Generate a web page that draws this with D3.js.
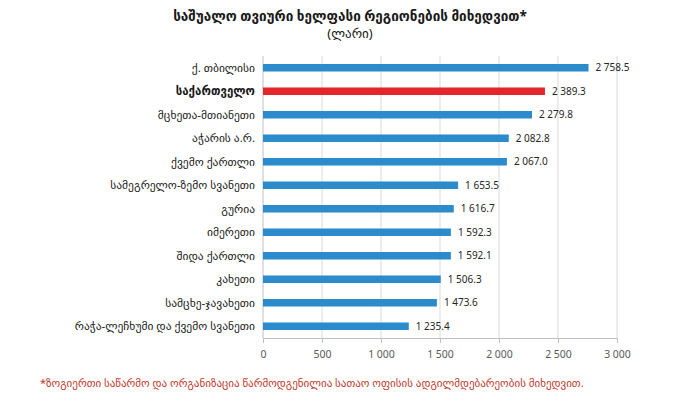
<!DOCTYPE html>
<html>
<head>
  <meta charset="utf-8">
  <style>
    body {
      margin: 0;
      background: white;
    }
    text {
      font-family: "Noto Sans", "DejaVu Sans", sans-serif;
    }
    .grid line {
      stroke: #d9d9d9;
    }
    .axis path, .axis line {
      stroke: #bfbfbf;
    }
  </style>
</head>
<body>
  <script src="https://d3js.org/d3.v7.min.js"></script>
  <script>
    var width = 700, height = 405;

    var title = "საშუალო თვიური ხელფასი რეგიონების მიხედვით*";
    var subtitle = "(ლარი)";
    var footnote = "*ზოგიერთი საწარმო და ორგანიზაცია წარმოდგენილია სათაო ოფისის ადგილმდებარეობის მიხედვით.";

    var regions = [
      "ქ. თბილისი",
      "საქართველო",
      "მცხეთა-მთიანეთი",
      "აჭარის ა.რ.",
      "ქვემო ქართლი",
      "სამეგრელო-ზემო სვანეთი",
      "გურია",
      "იმერეთი",
      "შიდა ქართლი",
      "კახეთი",
      "სამცხე-ჯავახეთი",
      "რაჭა-ლეჩხუმი და ქვემო სვანეთი"
    ];
    var salaries = [2758.5, 2389.3, 2279.8, 2082.8, 2067.0, 1653.5, 1616.7, 1592.3, 1592.1, 1506.3, 1473.6, 1235.4];
    var ticks = [0, 500, 1000, 1500, 2000, 2500, 3000];
    var highlight = "საქართველო";

    var data = regions.map((r, i) => ({ region: r, value: salaries[i] }));

    var locale = d3.formatLocale({ decimal: ".", thousands: " ", grouping: [3], currency: ["", ""] });
    var fmtVal = locale.format(",.1f");
    var fmtTick = locale.format(",d");

    var margin = { top: 56, left: 263, right: 83, bottom: 67 };
    var innerW = width - margin.left - margin.right;
    var innerH = height - margin.top - margin.bottom;

    var svg = d3.select("body").append("svg")
        .attr("width", width)
        .attr("height", height);

    svg.append("text")
        .attr("x", 350).attr("y", 21)
        .attr("text-anchor", "middle")
        .style("font-size", "13.5px")
        .style("font-weight", "bold")
        .style("fill", "#1a1a1a")
        .text(title);

    svg.append("text")
        .attr("x", 350).attr("y", 38)
        .attr("text-anchor", "middle")
        .style("font-size", "13px")
        .style("fill", "#1a1a1a")
        .text(subtitle);

    var g = svg.append("g")
        .attr("transform", "translate(" + margin.left + "," + margin.top + ")");

    var x = d3.scaleLinear().domain([0, 3000]).range([0, innerW]);
    var y = d3.scaleBand().domain(regions).range([0, innerH]).paddingInner(0.68).paddingOuter(0.34);

    // vertical gridlines
    g.append("g").attr("class", "grid")
      .selectAll("line")
      .data(ticks.slice(1))
      .enter().append("line")
        .attr("x1", d => x(d)).attr("x2", d => x(d))
        .attr("y1", 0).attr("y2", innerH);

    // left axis line
    g.append("line")
        .attr("x1", 0).attr("x2", 0)
        .attr("y1", 0).attr("y2", innerH)
        .style("stroke", "#bfbfbf");

    var xAxis = g.append("g").attr("class", "axis")
        .attr("transform", "translate(0," + innerH + ")")
        .call(d3.axisBottom(x).tickValues(ticks).tickFormat(fmtTick).tickSize(5).tickSizeOuter(0));
    xAxis.selectAll("text")
        .attr("dy", "1.1em")
        .style("font-size", "10.5px")
        .style("fill", "#595959");

    g.selectAll("rect.bar")
        .data(data)
      .enter().append("rect")
        .attr("class", "bar")
        .attr("x", 0)
        .attr("y", d => y(d.region))
        .attr("width", d => x(d.value))
        .attr("height", y.bandwidth())
        .style("fill", d => d.region === highlight ? "#e3262b" : "#2b8bcb");

    g.selectAll("text.val")
        .data(data)
      .enter().append("text")
        .attr("class", "val")
        .attr("x", d => x(d.value) + 7)
        .attr("y", d => y(d.region) + y.bandwidth() / 2)
        .attr("dy", "0.35em")
        .style("font-size", "10px")
        .style("fill", "#262626")
        .text(d => fmtVal(d.value));

    g.selectAll("text.cat")
        .data(data)
      .enter().append("text")
        .attr("class", "cat")
        .attr("x", -8)
        .attr("y", d => y(d.region) + y.bandwidth() / 2)
        .attr("dy", "0.35em")
        .attr("text-anchor", "end")
        .style("font-size", "11.5px")
        .style("font-weight", d => d.region === highlight ? "bold" : "normal")
        .style("fill", "#1a1a1a")
        .text(d => d.region);

    svg.append("text")
        .attr("x", 40).attr("y", 387)
        .style("font-size", "11px")
        .style("fill", "#c0392b")
        .text(footnote);
  </script>
</body>
</html>
